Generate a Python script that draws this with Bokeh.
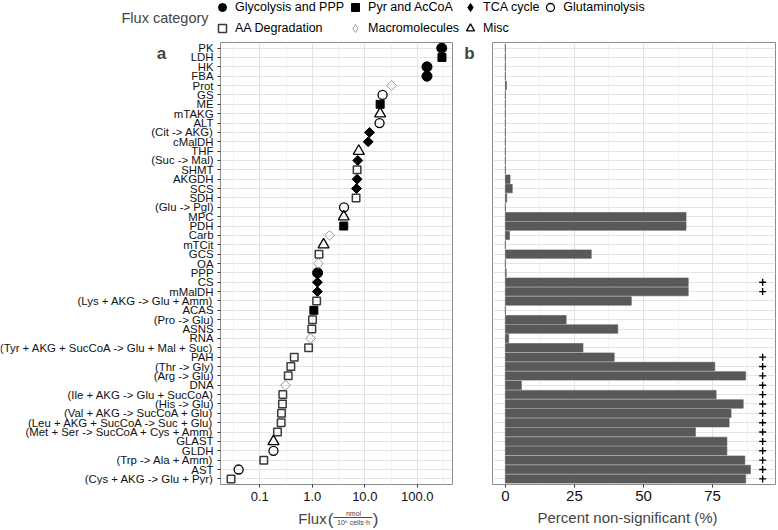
import math
from bokeh.plotting import figure
from bokeh.models import (ColumnDataSource, FactorRange, Range1d, FixedTicker, Label,
                          Legend, LegendItem, Arrow)
from bokeh.core.properties import value
from bokeh.layouts import column, row
from bokeh.embed import file_html
from bokeh.resources import INLINE

# ---------------- data ----------------
reactions = ["PK", "LDH", "HK", "FBA", "Prot", "GS", "ME", "mTAKG", "ALT", "(Cit -> AKG)",
             "cMalDH", "THF", "(Suc -> Mal)", "SHMT", "AKGDH", "SCS", "SDH", "(Glu -> Pgl)",
             "MPC", "PDH", "Carb", "mTCit", "GCS", "OA", "PPP", "CS", "mMalDH",
             "(Lys + AKG -> Glu + Amm)", "ACAS", "(Pro -> Glu)", "ASNS", "RNA",
             "(Tyr + AKG + SucCoA -> Glu + Mal + Suc)", "PAH", "(Thr -> Gly)", "(Arg -> Glu)",
             "DNA", "(Ile + AKG -> Glu + SucCoA)", "(His -> Glu)", "(Val + AKG -> SucCoA + Glu)",
             "(Leu + AKG + SucCoA -> Suc + Glu)", "(Met + Ser -> SucCoA + Cys + Amm)", "GLAST",
             "GLDH", "(Trp -> Ala + Amm)", "AST", "(Cys + AKG -> Glu + Pyr)"]

flux = [292, 295, 153, 153, 32.4, 21.8, 19.6, 19.6, 19.1, 12.3,
        11.6, 7.67, 7.35, 7.13, 7.13, 6.93, 6.82, 4.02,
        3.97, 3.97, 2.14, 1.64, 1.34, 1.30, 1.26, 1.25, 1.25,
        1.21, 1.07, 1.01, 0.98, 0.93,
        0.85, 0.453, 0.39, 0.348,
        0.309, 0.274, 0.27, 0.259,
        0.255, 0.217, 0.182,
        0.182, 0.119, 0.0395, 0.0283]

category = ["Glycolysis and PPP", "Pyr and AcCoA", "Glycolysis and PPP", "Glycolysis and PPP",
            "Macromolecules", "Glutaminolysis", "Pyr and AcCoA", "Misc", "Glutaminolysis", "TCA cycle",
            "TCA cycle", "Misc", "TCA cycle", "AA Degradation", "TCA cycle", "TCA cycle",
            "AA Degradation", "Glutaminolysis", "Misc", "Pyr and AcCoA", "Macromolecules", "Misc",
            "AA Degradation", "Macromolecules", "Glycolysis and PPP", "TCA cycle", "TCA cycle",
            "AA Degradation", "Pyr and AcCoA", "AA Degradation", "AA Degradation", "Macromolecules",
            "AA Degradation", "AA Degradation", "AA Degradation", "AA Degradation", "Macromolecules",
            "AA Degradation", "AA Degradation", "AA Degradation", "AA Degradation", "AA Degradation",
            "Misc", "Glutaminolysis", "AA Degradation", "Glutaminolysis", "AA Degradation"]

pct_nonsig = [0, 0, 0, 0, 0.4, 0, 0, 0, 0, 0,
              0, 0, 0, 0, 1.7, 2.5, 0.5, 0,
              65.4, 65.4, 1.5, 0, 31.1, 0, 0.3, 66.2, 66.2,
              45.6, 0, 22.0, 40.7, 1.2,
              28.1, 39.4, 75.8, 87.0,
              5.8, 76.3, 86.1, 81.7,
              81.0, 68.8, 80.2,
              80.2, 86.7, 88.7, 87.0]

significant = [0, 0, 0, 0, 0, 0, 0, 0, 0, 0,
               0, 0, 0, 0, 0, 0, 0, 0,
               0, 0, 0, 0, 0, 0, 0, 1, 1,
               0, 0, 0, 0, 0,
               0, 1, 1, 1,
               1, 1, 1, 1,
               1, 1, 1,
               1, 1, 1, 1]

category_order = ["Glycolysis and PPP", "Pyr and AcCoA", "TCA cycle", "Glutaminolysis",
                  "AA Degradation", "Macromolecules", "Misc"]

flux_ticks = [0.1, 1.0, 10.0, 100.0]
flux_tick_labels = ["0.1", "1.0", "10.0", "100.0"]
pct_ticks = [0, 25, 50, 75]

# ---------------- styles / layout ----------------
FONT = "Liberation Sans"
GRID = "#e4e4e4"
MINOR = "#f3f3f3"
BORDER = "#8c8c8c"
FH = 442            # frame height of both panels
BOT = 24            # space under the frames for tick labels
ROW_H = FH + BOT

styles = {
    "Glycolysis and PPP": dict(marker="circle", size=10, fill_color="black", line_color="black", line_width=1, angle=0),
    "Pyr and AcCoA": dict(marker="square", size=8, fill_color="black", line_color="black", line_width=1, angle=0),
    "TCA cycle": dict(marker="square", size=7, fill_color="black", line_color="black", line_width=1, angle=math.pi / 4),
    "Glutaminolysis": dict(marker="circle", size=9, fill_color=None, line_color="black", line_width=1.3, angle=0),
    "AA Degradation": dict(marker="square", size=7.5, fill_color=None, line_color="#3a3a3a", line_width=1.5, angle=0),
    "Macromolecules": dict(marker="square", size=7, fill_color=None, line_color="#9a9a9a", line_width=1, angle=math.pi / 4),
    "Misc": dict(marker="triangle", size=11, fill_color=None, line_color="black", line_width=1.3, angle=0),
}


def blank(width, height, bottom=0):
    f = figure(width=width, height=height, x_range=Range1d(0, 1), y_range=Range1d(0, 1),
               output_backend="svg", toolbar_location=None, min_border=0,
               min_border_bottom=bottom, x_axis_location=None, y_axis_location=None)
    f.outline_line_color = None
    f.grid.visible = False
    return f


# shared categorical y range (top row first)
y_range = FactorRange(factors=list(reversed(reactions)), range_padding=0.1,
                      range_padding_units="absolute")

# ---------------- row labels of panel a ----------------
plab = figure(width=216, height=ROW_H, y_range=y_range, x_range=Range1d(0, 1),
              output_backend="svg", toolbar_location=None, min_border=0,
              min_border_bottom=BOT, x_axis_location=None, y_axis_location=None)
plab.outline_line_color = None
plab.grid.visible = False
plab.text(x=1, y="y", text="y", source=ColumnDataSource(dict(y=reactions)),
          text_align="right", text_baseline="middle", x_offset=-3,
          text_font=value(FONT), text_font_size="11.4px", text_color="#111111")
plab.add_layout(Label(x=161, y=FH - 1, x_units="screen", y_units="screen", text="a",
                      text_font=FONT, text_font_size="17px", text_font_style="bold",
                      text_align="center", text_baseline="top"))

# ---------------- panel a ----------------
lo, hi = math.log10(min(flux)), math.log10(max(flux))
span = hi - lo
xa_range = Range1d(10 ** (lo - 0.05 * span), 10 ** (hi + 0.05 * span))

pa = figure(width=244, height=ROW_H, y_range=y_range, x_range=xa_range, x_axis_type="log",
            output_backend="svg", toolbar_location=None,
            min_border_left=4, min_border_right=8, min_border_top=0, min_border_bottom=BOT)
pa.outline_line_color = BORDER
pa.outline_line_width = 1

minor_a = [10 ** (math.log10(t) + 0.5) for t in flux_ticks] + [10 ** (math.log10(flux_ticks[0]) - 0.5)]
pa.xaxis.ticker = FixedTicker(ticks=flux_ticks, minor_ticks=minor_a)
pa.xaxis.major_label_overrides = dict(zip(flux_ticks, flux_tick_labels))

for ax in (pa.xaxis, pa.yaxis):
    ax.axis_line_color = None
    ax.major_tick_out = 3
    ax.major_tick_in = 0
    ax.minor_tick_line_color = None
    ax.major_tick_line_color = "#333333"
    ax.major_label_text_font = FONT
    ax.major_label_text_color = "#111111"
# row names are drawn by the label strip on the left; keep only the tick marks here
pa.yaxis.major_label_text_font_size = "0px"
pa.yaxis.major_label_text_color = None
pa.yaxis.major_label_standoff = 0
pa.xaxis.major_label_text_font_size = "13px"
pa.xaxis.major_label_standoff = 3

pa.ygrid.grid_line_color = GRID
pa.xgrid.grid_line_color = GRID
pa.xgrid.minor_grid_line_color = MINOR

for cat in category_order:
    idx = [i for i, c in enumerate(category) if c == cat]
    src = ColumnDataSource(dict(x=[flux[i] for i in idx], y=[reactions[i] for i in idx]))
    pa.scatter("x", "y", source=src, **styles[cat])

# ---------------- gap with panel letter b ----------------
pgap = blank(31, ROW_H, BOT)
pgap.add_layout(Label(x=9, y=FH - 1, x_units="screen", y_units="screen", text="b",
                      text_font=FONT, text_font_size="17px", text_font_style="bold",
                      text_align="center", text_baseline="top"))

# ---------------- panel b ----------------
sig_pos = max(pct_nonsig) * 1.05
xb_range = Range1d(-0.05 * sig_pos, sig_pos * 1.05)

pb = figure(width=285, height=ROW_H, y_range=y_range, x_range=xb_range,
            output_backend="svg", toolbar_location=None,
            min_border_left=1, min_border_right=1, min_border_top=0, min_border_bottom=BOT)
pb.outline_line_color = BORDER
pb.outline_line_width = 1
pb.yaxis.visible = False
pb.xaxis.ticker = FixedTicker(ticks=pct_ticks, minor_ticks=[t + 12.5 for t in pct_ticks])
pb.xaxis.axis_line_color = None
pb.xaxis.major_tick_out = 3
pb.xaxis.major_tick_in = 0
pb.xaxis.minor_tick_line_color = None
pb.xaxis.major_tick_line_color = "#333333"
pb.xaxis.major_label_text_font = FONT
pb.xaxis.major_label_text_font_size = "15px"
pb.xaxis.major_label_text_color = "#111111"
pb.xaxis.major_label_standoff = 2
pb.ygrid.grid_line_color = GRID
pb.xgrid.grid_line_color = GRID
pb.xgrid.minor_grid_line_color = MINOR

bsrc = ColumnDataSource(dict(y=reactions, right=pct_nonsig))
pb.hbar(y="y", left=0, right="right", height=0.9, source=bsrc,
        fill_color="#595959", line_color="#595959", line_width=0.6)

sig_rows = [r for r, s in zip(reactions, significant) if s]
ssrc = ColumnDataSource(dict(x=[sig_pos] * len(sig_rows), y=sig_rows))
pb.scatter("x", "y", source=ssrc, marker="cross", size=7, line_color="black", line_width=1.4)

# ---------------- legend strip ----------------
pl = blank(776, 42)
items = []
for cat in category_order:
    st = dict(styles[cat])
    if st["angle"]:
        # legend swatches ignore the angle, so use Bokeh's diamond there
        st.update(marker="diamond", size=9, angle=0)
    r = pl.scatter(x=[float("nan")], y=[float("nan")], **st)
    items.append(LegendItem(label=cat, renderers=[r]))

leg = Legend(items=items, ncols=4, orientation="horizontal", location=(212, 4),
             glyph_width=20, glyph_height=20, label_height=20, label_standoff=3,
             spacing=1, padding=0, margin=0, border_line_color=None,
             background_fill_alpha=0, label_text_font=FONT, label_text_font_size="12.5px",
             label_text_color="black")
pl.add_layout(leg, "center")
pl.add_layout(Label(x=121, y=25, x_units="screen", y_units="screen", text="Flux category",
                    text_font=FONT, text_font_size="14.5px", text_align="left", text_baseline="middle"))

# ---------------- axis titles strip ----------------
ps = blank(776, 20)
ps.add_layout(Label(x=312, y=10, x_units="screen", y_units="screen", text="Flux",
                    text_font=FONT, text_font_size="15px", text_align="center", text_baseline="middle"))
ps.add_layout(Label(x=330, y=9, x_units="screen", y_units="screen", text="(",
                    text_font=FONT, text_font_size="17px", text_align="center", text_baseline="middle"))
ps.add_layout(Label(x=375, y=9, x_units="screen", y_units="screen", text=")",
                    text_font=FONT, text_font_size="17px", text_align="center", text_baseline="middle"))
ps.add_layout(Label(x=353, y=15, x_units="screen", y_units="screen", text="nmol",
                    text_font=FONT, text_font_size="7px", text_align="center", text_baseline="middle"))
ps.add_layout(Label(x=353, y=6, x_units="screen", y_units="screen", text="10\u2076 cells\u00b7h",
                    text_font=FONT, text_font_size="7px", text_align="center", text_baseline="middle"))
ps.add_layout(Arrow(end=None, x_start=333, y_start=11, x_end=372, y_end=11,
                    start_units="screen", end_units="screen", line_width=0.7, line_color="black"))
ps.add_layout(Label(x=627, y=11, x_units="screen", y_units="screen", text="Percent non-significant (%)",
                    text_font=FONT, text_font_size="15px", text_align="center", text_baseline="middle"))

layout = column(pl, row(plab, pa, pgap, pb), ps)
open("out.html", "w").write(file_html(layout, INLINE))
